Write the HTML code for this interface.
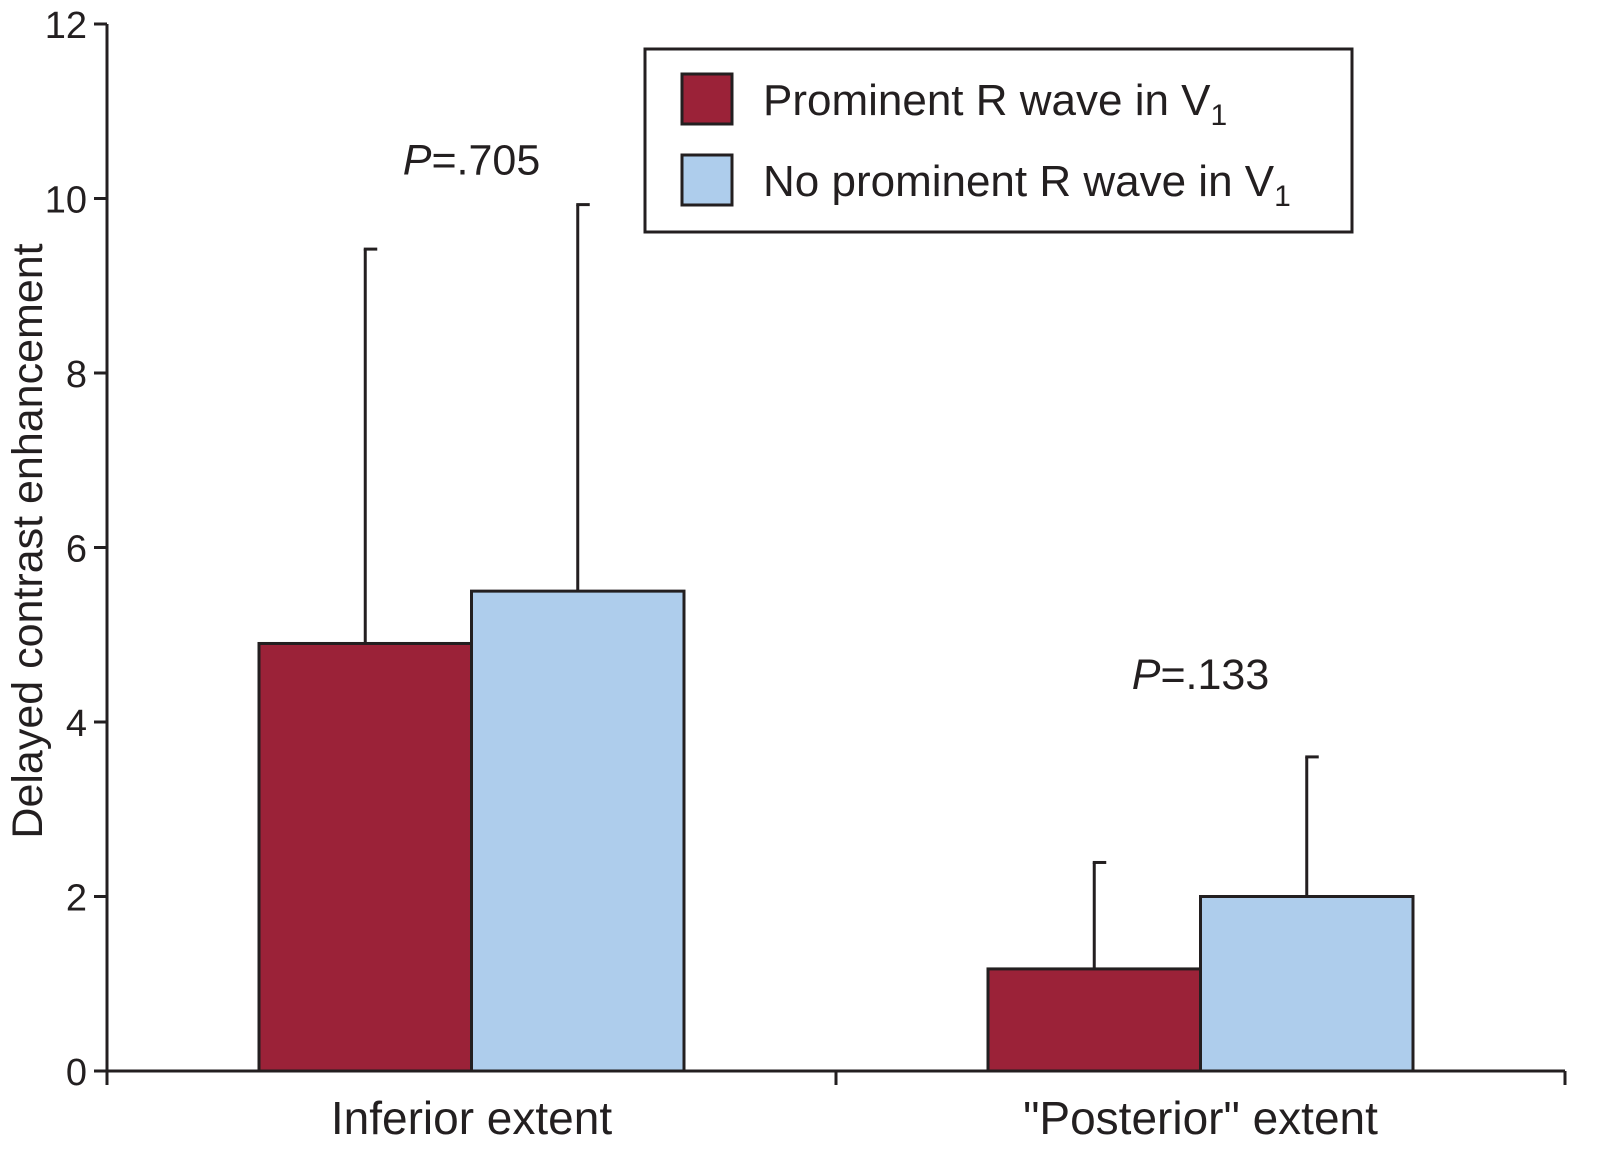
<!DOCTYPE html>
<html><head><meta charset="utf-8"><style>
body{margin:0;background:#fff;}
svg{display:block;font-family:"Liberation Sans",Arial,sans-serif;}
</style></head><body>
<svg id="chart" width="1601" height="1174"></svg>
<script>
const categories=["Inferior extent","\"Posterior\" extent"];
const redValues=[4.9,1.17];
const blueValues=[5.5,2.0];
const redErr=[9.42,2.39];
const blueErr=[9.93,3.6];
const yTicks=[0,2,4,6,8,10,12];
const pLabels=[".705",".133"];
const pValuesY=[10.3,4.4];

const NS="http://www.w3.org/2000/svg";
const svg=document.getElementById('chart');
function el(t,a,p){const e=document.createElementNS(NS,t);for(const k in a)e.setAttribute(k,a[k]);(p||svg).appendChild(e);return e;}
const x0=107,x1=1565,yBase=1071,yTop=24;
const y=v=>yBase-(v/12)*(yBase-yTop);
const groupW=(x1-x0)/categories.length;
const barW=212.5;
const gx=i=>x0+groupW*(i+0.5);

let a=el('line',{x1:x0,y1:yTop,x2:x0,y2:yBase,stroke:'#231f20','stroke-width':3});

a=el('line',{x1:x0,y1:yBase,x2:x1,y2:yBase,stroke:'#231f20','stroke-width':3});

yTicks.forEach(t=>{
  let l=el('line',{x1:x0-13,y1:y(t),x2:x0,y2:y(t),stroke:'#231f20','stroke-width':3});
  
  let tx=el('text',{x:x0-20,y:y(t)+14,'text-anchor':'end','font-size':38,fill:'#231f20'});
  tx.textContent=t;
  
});
for(let i=0;i<=categories.length;i++){
  let l=el('line',{x1:x0+groupW*i,y1:yBase,x2:x0+groupW*i,y2:yBase+14,stroke:'#231f20','stroke-width':3});
  
}
let yt=el('text',{x:0,y:0,transform:'translate(42,541) rotate(-90)','text-anchor':'middle','font-size':43,fill:'#231f20'});
yt.textContent='Delayed contrast enhancement';


categories.forEach((c,i)=>{
  const cx=gx(i);
  [[cx-barW/2,redValues[i],redErr[i],'red'],[cx+barW/2,blueValues[i],blueErr[i],'blue']].forEach(([ex,v,e,n])=>{
    let l=el('line',{x1:ex,y1:y(v),x2:ex,y2:y(e),stroke:'#231f20','stroke-width':3});
    
    let c2=el('line',{x1:ex-1.5,y1:y(e),x2:ex+12,y2:y(e),stroke:'#231f20','stroke-width':3});
    
  });
  let r=el('rect',{x:cx-barW,y:y(redValues[i]),width:barW,height:yBase-y(redValues[i]),fill:'#9b2238',stroke:'#231f20','stroke-width':3});
  
  let b=el('rect',{x:cx,y:y(blueValues[i]),width:barW,height:yBase-y(blueValues[i]),fill:'#aecdec',stroke:'#231f20','stroke-width':3});
  
  let t=el('text',{x:cx,y:1134,'text-anchor':'middle','font-size':46,fill:'#231f20'});
  t.textContent=c;
  
  let p=el('text',{x:cx,y:y(pValuesY[i])+2,'text-anchor':'middle','font-size':43,fill:'#231f20'});
  p.innerHTML='<tspan font-style="italic">P</tspan>='+pLabels[i];
  
});

const lg=el('g',{});

el('rect',{x:645,y:49,width:707,height:183,fill:'#fff',stroke:'#231f20','stroke-width':3},lg);
[['#9b2238','Prominent R wave in V',74],['#aecdec','No prominent R wave in V',155]].forEach(([col,txt,ty])=>{
  let s=el('rect',{x:682,y:ty,width:50,height:50,fill:col,stroke:'#231f20','stroke-width':3},lg);
  
  let t=el('text',{x:763,y:ty+41,'font-size':44,fill:'#231f20'},lg);
  t.innerHTML=txt+'<tspan font-size="30" dy="10">1</tspan>';
  
});
</script>
</body></html>
